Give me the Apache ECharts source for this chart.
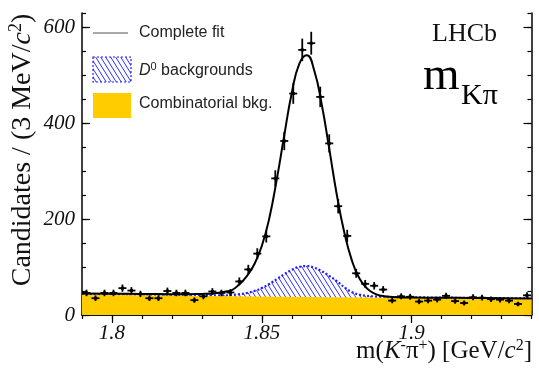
<!DOCTYPE html>
<html><head><meta charset="utf-8">
<script src="https://cdn.jsdelivr.net/npm/echarts@6/dist/echarts.min.js"></script>
<style>html,body{margin:0;padding:0;background:#fff}#c{width:539px;height:375px}</style>
</head><body><div id="c"></div>
<script>
// ---- data ----
const binCenters = [1.7915,1.7945,1.7975,1.8005,1.8035,1.8065,1.8095,1.8125,1.8155,1.8185,
  1.8215,1.8245,1.8275,1.8305,1.8335,1.8365,1.8395,1.8425,1.8455,1.8485,
  1.8515,1.8545,1.8575,1.8605,1.8635,1.8665,1.8695,1.8725,1.8755,1.8785,
  1.8815,1.8845,1.8875,1.8905,1.8935,1.8965,1.8995,1.9025,1.9055,1.9085,
  1.9115,1.9145,1.9175,1.9205,1.9235,1.9265,1.9295,1.9325,1.9355,1.9385];
const counts = [46,35,46,46,56,51,44,35,35,50,46,46,31,39,49,46,47,70,95,128,
  164,285,363,462,553,567,455,358,227,165,87,65,61,53,30,39,38,28,30,32,
  40,29,25,37,36,33,32,30,23,41];
const countErrs = [6.8,5.9,6.8,6.8,7.5,7.1,6.6,5.9,5.9,7.1,6.8,6.8,5.6,6.2,7.0,6.8,6.9,8.4,9.7,11.3,
  12.8,16.9,19.1,21.5,23.5,23.8,21.3,18.9,15.1,12.8,9.3,8.1,7.8,7.3,5.5,6.2,6.2,5.3,5.5,5.7,
  6.3,5.4,5.0,6.1,6.0,5.7,5.7,5.5,4.8,6.4];
const curveMass = [1.79,1.80,1.81,1.82,1.825,1.83,1.8325,1.835,1.8375,1.84,1.8425,1.845,1.8475,1.85,
  1.8525,1.855,1.8575,1.86,1.8625,1.865,1.8675,1.87,1.8725,1.875,1.8775,1.88,1.8825,1.885,1.8875,
  1.89,1.8925,1.895,1.90,1.91,1.92,1.93,1.94];
const fitTotal = [45,44.5,44,43.5,43.5,44,44.5,46,48.5,52,64,81,106,144,
  202,283,375,463,524,542,510,439,347,252,173,115,77,56,45,
  40,38,37,36.5,36,35.5,35,34.5];
const d0Total = [43.5,43,42.3,41.7,41.4,41.1,41,41,41,41.9,43.4,45.9,50,56.4,
  64.7,74.8,85.1,94.3,100.3,102,98.7,91.4,81.5,70.7,58,48,42.5,40,38.8,
  38.2,37.6,37.2,36.9,36.3,35.7,35.1,34.5];
const combMass = [1.79,1.94];
const combVals = [42,33];
const xMajorTicks = [1.8,1.85,1.9];
const yMajorTicks = [0,200,400,600];

const SERIF = 'Liberation Serif, Times New Roman, serif';
const SANS = 'Liberation Sans, Arial, sans-serif';

function hatchCanvas(){
  const c = document.createElement('canvas'); c.width = 5; c.height = 8;
  const g = c.getContext('2d');
  g.strokeStyle = '#2f2fff'; g.lineWidth = 1;
  g.beginPath();
  for (let k=-1;k<=1;k++){ g.moveTo(k*5,0); g.lineTo(k*5+5,8); }
  g.stroke();
  return c;
}
const hatch = hatchCanvas();

const chart = echarts.init(document.getElementById('c'), null, {renderer:'canvas'});
const xBase = {type:'value', min:1.79, max:1.94, splitLine:{show:false}};
const yBase = {type:'value', min:0, max:630, splitLine:{show:false}};
const lineBlack = {show:true, lineStyle:{color:'#000', width:1.5}};

const option = {
  animation:false,
  grid:{left:82, right:7.5, top:13, bottom:60, containLabel:false},
  xAxis:[
    Object.assign({}, xBase, {position:'bottom', axisLine:lineBlack,
      axisTick:{inside:true, length:8, customValues:xMajorTicks, lineStyle:{color:'#000', width:1.2}},
      axisLabel:{customValues:xMajorTicks, margin:8, color:'#111', fontFamily:SERIF, fontStyle:'italic', fontSize:21,
        formatter:v=>String(+v.toFixed(2))}}),
    Object.assign({}, xBase, {position:'bottom', interval:0.01, axisLine:{show:false},
      axisTick:{inside:true, length:4, lineStyle:{color:'#000', width:1.2}}, axisLabel:{show:false}}),
    Object.assign({}, xBase, {position:'top', axisLine:lineBlack,
      axisTick:{inside:true, length:8, customValues:xMajorTicks, lineStyle:{color:'#000', width:1.2}}, axisLabel:{show:false}}),
    Object.assign({}, xBase, {position:'top', interval:0.01, axisLine:{show:false},
      axisTick:{inside:true, length:4, lineStyle:{color:'#000', width:1.2}}, axisLabel:{show:false}})
  ],
  yAxis:[
    Object.assign({}, yBase, {position:'left', axisLine:lineBlack,
      axisTick:{inside:true, length:8, customValues:yMajorTicks, lineStyle:{color:'#000', width:1.2}},
      axisLabel:{customValues:yMajorTicks, margin:7, color:'#111', fontFamily:SERIF, fontStyle:'italic', fontSize:21}}),
    Object.assign({}, yBase, {position:'left', interval:50, axisLine:{show:false},
      axisTick:{inside:true, length:4, lineStyle:{color:'#000', width:1.2}}, axisLabel:{show:false}}),
    Object.assign({}, yBase, {position:'right', axisLine:lineBlack,
      axisTick:{inside:true, length:8, customValues:yMajorTicks, lineStyle:{color:'#000', width:1.2}}, axisLabel:{show:false}}),
    Object.assign({}, yBase, {position:'right', interval:50, axisLine:{show:false},
      axisTick:{inside:true, length:4, lineStyle:{color:'#000', width:1.2}}, axisLabel:{show:false}})
  ],
  series:[
    {name:'D0 backgrounds', type:'line', xAxisIndex:0, yAxisIndex:0, z:2, showSymbol:false, smooth:true,
      data:curveMass.map((m,i)=>[m,d0Total[i]]),
      lineStyle:{color:'#1e1eff', width:2.2, type:[2,2]},
      areaStyle:{color:{image:hatch, repeat:'repeat'}, opacity:1}},
    {name:'Combinatorial bkg.', type:'line', xAxisIndex:0, yAxisIndex:0, z:3, showSymbol:false,
      data:combMass.map((m,i)=>[m,combVals[i]]),
      lineStyle:{width:0}, areaStyle:{color:'#FFCC00', opacity:1}},
    {name:'Complete fit', type:'line', xAxisIndex:0, yAxisIndex:0, z:4, showSymbol:false, smooth:true,
      data:curveMass.map((m,i)=>[m,fitTotal[i]]),
      lineStyle:{color:'#000', width:2}},
    {name:'Data', type:'custom', xAxisIndex:0, yAxisIndex:0, z:5,
      data:binCenters.map((m,i)=>[m,counts[i],countErrs[i]]),
      renderItem:function(params, api){
        const x = api.value(0), y = api.value(1), e = api.value(2);
        const c = api.coord([x,y]), t = api.coord([x,y+e]), b = api.coord([x,y-e]);
        return {type:'group', children:[
          {type:'line', shape:{x1:c[0]-4, y1:c[1], x2:c[0]+4, y2:c[1]}, style:{stroke:'#000', lineWidth:1.8}},
          {type:'line', shape:{x1:c[0], y1:t[1], x2:c[0], y2:b[1]}, style:{stroke:'#000', lineWidth:1.8}},
          {type:'rect', shape:{x:c[0]-1.5, y:c[1]-1.5, width:3, height:3}, style:{fill:'#000'}}
        ]};
      }}
  ],
  graphic:[
    // legend
    {type:'line', shape:{x1:93, y1:33, x2:128, y2:33}, style:{stroke:'#555', lineWidth:1}, z:10},
    {type:'text', x:139, y:33, z:10, style:{text:'Complete fit', font:'16px '+SANS, fill:'#222', verticalAlign:'middle'}},
    {type:'rect', shape:{x:93, y:57, width:38, height:25}, style:{fill:{image:hatch, repeat:'repeat'}, stroke:'#1e1eff', lineWidth:1.2, lineDash:[2,2]}, z:10},
    {type:'text', x:139, y:70, z:10, style:{text:'{i|D}{s|0}{n| backgrounds}', verticalAlign:'middle', fill:'#222',
      rich:{i:{font:'italic 16px '+SANS, verticalAlign:'bottom'}, s:{font:'11px '+SANS, verticalAlign:'bottom', padding:[0,0,7,0]}, n:{font:'16px '+SANS, verticalAlign:'bottom'}}}},
    {type:'rect', shape:{x:93, y:93, width:38, height:25}, style:{fill:'#FFCC00'}, z:10},
    {type:'text', x:139, y:104, z:10, style:{text:'Combinatorial bkg.', font:'16px '+SANS, fill:'#222', verticalAlign:'middle'}},
    // LHCb labels
    {type:'text', x:497, y:34, z:10, style:{text:'LHCb', font:'26px '+SERIF, fill:'#111', align:'right', verticalAlign:'middle'}},
    {type:'text', x:423, y:77, z:10, style:{text:'m', font:'47px '+SERIF, fill:'#000', align:'left', verticalAlign:'middle'}},
    {type:'text', x:461, y:96, z:10, style:{text:'Kπ', font:'30px '+SERIF, fill:'#000', align:'left', verticalAlign:'middle'}},
    // axis titles
    {type:'text', x:532, y:351, z:10, style:{text:'{n|m(}{i|K}{s|-}{n|π}{s|+}{n|) [GeV/}{i|c}{s|2}{n|]}', align:'right', verticalAlign:'middle', fill:'#111',
      rich:{n:{font:'25px '+SERIF, verticalAlign:'bottom'}, i:{font:'italic 25px '+SERIF, verticalAlign:'bottom'}, s:{font:'16px '+SERIF, verticalAlign:'bottom', padding:[0,0,10,0]}}}},
    {type:'text', x:22, y:150, rotation:Math.PI/2, z:10, style:{text:'{n|Candidates / (3 MeV/}{i|c}{s|2}{n|)}', align:'center', verticalAlign:'middle', fill:'#111',
      rich:{n:{font:'28px '+SERIF, verticalAlign:'bottom'}, i:{font:'italic 28px '+SERIF, verticalAlign:'bottom'}, s:{font:'18px '+SERIF, verticalAlign:'bottom', padding:[0,0,11,0]}}}}
  ]
};
chart.setOption(option);
</script></body></html>
